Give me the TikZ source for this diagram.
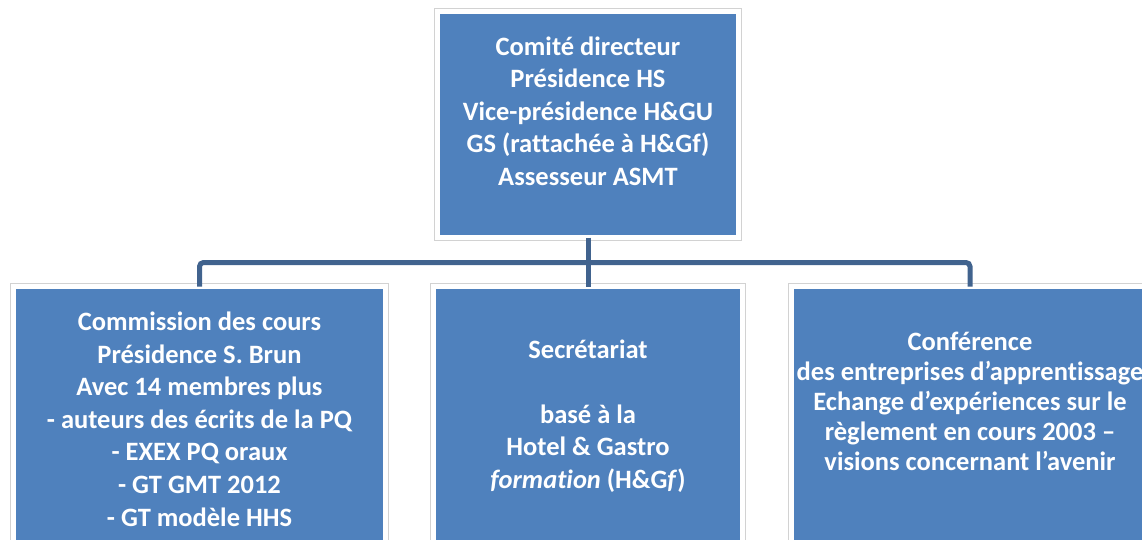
\documentclass[tikz,border=0pt]{standalone}
\usepackage{fontspec}
\setmainfont{Carlito}[Ligatures=NoCommon]
\usetikzlibrary{positioning}

\definecolor{BoxBlue}{HTML}{4F81BD}
\definecolor{TieBlue}{HTML}{41638E}
\definecolor{BoxEdge}{HTML}{D2D2D2}

\begin{document}
\begin{tikzpicture}[
  x=1pt, y=-1pt,
  every node/.style={inner sep=0pt, outer sep=0pt},
  unitbox/.style={fill=BoxBlue, draw=white, line width=5pt,
    preaction={draw=BoxEdge, line width=7pt}, anchor=north west},
  boxtext/.style={text=white, align=center,
    font=\bfseries\fontsize{26.5}{32.6}\selectfont},
  tie/.style={draw=TieBlue, line width=5pt, rounded corners=4pt},
]
\useasboundingbox (0,0) rectangle (1142,539);
\clip (0,0) rectangle (1142,539);

% ── boxes ──
\node[unitbox, minimum width=301pt, minimum height=226pt] (board) at (437.5,11.5) {};
\node[unitbox, minimum width=372pt, minimum height=280pt] (courses) at (13.5,286.5) {};
\node[unitbox, minimum width=309pt, minimum height=280pt] (office) at (433.5,286.5) {};
\node[unitbox, minimum width=357pt, minimum height=280pt] (firms) at (791.5,286.5) {};

% ── connectors ──
\coordinate (bus) at (588,262.5);
\draw[tie] (board.south) -- (office.north);
\draw[tie] (bus) -| (courses.north);
\draw[tie] (bus) -| (firms.north);

% ── texts ──
\node[boxtext] (boardtxt) at (588,111) {Comité directeur\\Présidence HS\\Vice-présidence H\&GU\\GS (rattachée à H\&Gf)\\Assesseur ASMT};
\node[boxtext] (coursestxt) at (199.5,419) {Commission des cours\\Présidence S. Brun\\Avec 14 membres plus\\- auteurs des écrits de la PQ\\- EXEX PQ oraux\\- GT GMT 2012\\- GT modèle HHS};
\node[boxtext] (officetxt) at (588,416) {Secrétariat\\[32.6pt]basé à la\\Hotel \& Gastro\\\textit{formation} (H\&G\textit{f})};
\node[boxtext, font=\bfseries\fontsize{26.5}{30}\selectfont] (firmstxt) at (970,401) {Conférence\\des entreprises d’apprentissage\\Echange d’expériences sur le\\règlement en cours 2003 –\\visions concernant l’avenir};

\end{tikzpicture}
\end{document}
